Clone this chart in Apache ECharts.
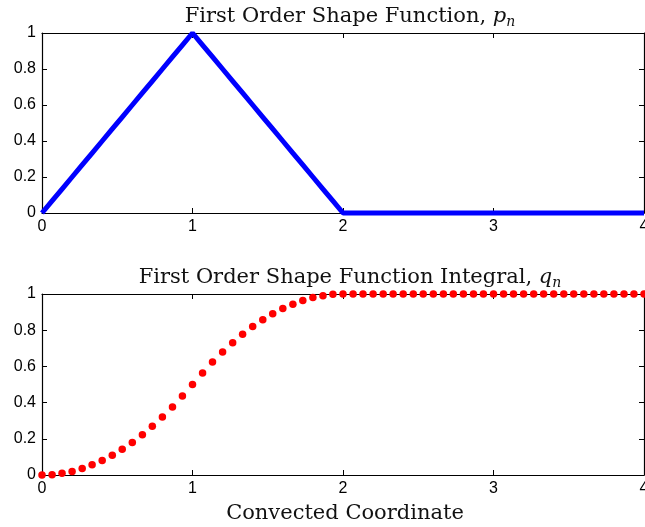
<!DOCTYPE html>
<html>
<head>
<meta charset="utf-8">
<style>
  html, body { margin: 0; padding: 0; background: #fff; }
  #chart { width: 645px; height: 527px; }
</style>
<script src="https://cdn.jsdelivr.net/npm/echarts@6/dist/echarts.min.js"></script>
</head>
<body>
<div id="chart"></div>
<script>
// Sample positions along the convected coordinate
var xs = [0, 0.067, 0.133, 0.2, 0.267, 0.333, 0.4, 0.467, 0.533, 0.6, 0.667, 0.733, 0.8, 0.867, 0.933,
  1, 1.067, 1.133, 1.2, 1.267, 1.333, 1.4, 1.467, 1.533, 1.6, 1.667, 1.733, 1.8, 1.867, 1.933,
  2, 2.067, 2.133, 2.2, 2.267, 2.333, 2.4, 2.467, 2.533, 2.6, 2.667, 2.733, 2.8, 2.867, 2.933,
  3, 3.067, 3.133, 3.2, 3.267, 3.333, 3.4, 3.467, 3.533, 3.6, 3.667, 3.733, 3.8, 3.867, 3.933, 4];

// First order shape function p_n
var pn = [0, 0.067, 0.133, 0.2, 0.267, 0.333, 0.4, 0.467, 0.533, 0.6, 0.667, 0.733, 0.8, 0.867, 0.933,
  1, 0.933, 0.867, 0.8, 0.733, 0.667, 0.6, 0.533, 0.467, 0.4, 0.333, 0.267, 0.2, 0.133, 0.067,
  0, 0, 0, 0, 0, 0, 0, 0, 0, 0, 0, 0, 0, 0, 0,
  0, 0, 0, 0, 0, 0, 0, 0, 0, 0, 0, 0, 0, 0, 0, 0];

// Its integral q_n
var qn = [0, 0.002, 0.009, 0.02, 0.036, 0.056, 0.08, 0.109, 0.142, 0.18, 0.222, 0.269, 0.32, 0.376, 0.436,
  0.5, 0.564, 0.624, 0.68, 0.731, 0.778, 0.82, 0.858, 0.891, 0.92, 0.944, 0.964, 0.98, 0.991, 0.998,
  1, 1, 1, 1, 1, 1, 1, 1, 1, 1, 1, 1, 1, 1, 1,
  1, 1, 1, 1, 1, 1, 1, 1, 1, 1, 1, 1, 1, 1, 1, 1];

var serif = '"DejaVu Serif", "Liberation Serif", serif';
var sans = '"Liberation Sans", Arial, sans-serif';

function pairs(x, y) { return x.map(function (v, i) { return [v, y[i]]; }); }

function titleRich(main, sym) {
  return {
    text: '{a|' + main + '}{p|' + sym + '}{n|n}',
    left: 345, textAlign: 'center',
    textStyle: {
      fontWeight: 'normal',
      rich: {
        a: { fontFamily: serif, fontSize: 21, fontWeight: 'normal', color: '#111', lineHeight: 24 },
        p: { fontFamily: serif, fontSize: 21, fontWeight: 'normal', fontStyle: 'italic', color: '#111', lineHeight: 24 },
        n: { fontFamily: serif, fontSize: 14, fontWeight: 'normal', fontStyle: 'italic', color: '#111', lineHeight: 14, verticalAlign: 'bottom' }
      }
    }
  };
}

var grids = [
  { left: 42, right: 1, top: 33, height: 180, outerBoundsMode: 'none', containLabel: false },
  { left: 42, right: 1, top: 294, height: 181, outerBoundsMode: 'none', containLabel: false }
];

function xAx(gi, pos, labels) {
  return {
    type: 'value', gridIndex: gi, position: pos, min: 0, max: 4, interval: 1,
    axisLine: { show: true, onZero: false, lineStyle: { color: '#000', width: 1.2 } },
    axisTick: { show: true, inside: true, length: 5, lineStyle: { color: '#000' } },
    axisLabel: { show: labels, margin: 6, fontFamily: sans, fontSize: 16, color: '#000',
      showMinLabel: true, showMaxLabel: true, hideOverlap: false },
    splitLine: { show: false }
  };
}
function yAx(gi, pos, labels) {
  return {
    type: 'value', gridIndex: gi, position: pos, min: 0, max: 1, interval: 0.2,
    axisLine: { show: true, onZero: false, lineStyle: { color: '#000', width: 1.2 } },
    axisTick: { show: true, inside: true, length: 5, lineStyle: { color: '#000' } },
    axisLabel: { show: labels, margin: 6, fontFamily: sans, fontSize: 16, color: '#000',
      formatter: function (v) { return String(Math.round(v * 10) / 10); } },
    splitLine: { show: false }
  };
}

var chart = echarts.init(document.getElementById('chart'), null, { renderer: 'canvas' });
chart.setOption({
  animation: false,
  backgroundColor: '#fff',
  title: [
    Object.assign(titleRich('First Order Shape Function, ', 'p'), { top: 0 }),
    Object.assign(titleRich('First Order Shape Function Integral, ', 'q'), { top: 261 })
  ],
  grid: grids,
  xAxis: [xAx(0, 'bottom', true), xAx(0, 'top', false), xAx(1, 'bottom', true), xAx(1, 'top', false)],
  yAxis: [yAx(0, 'left', true), yAx(0, 'right', false), yAx(1, 'left', true), yAx(1, 'right', false)],
  series: [
    {
      type: 'line', xAxisIndex: 0, yAxisIndex: 0, data: pairs(xs, pn),
      showSymbol: false, lineStyle: { color: '#0000ff', width: 5 }, clip: false
    },
    {
      type: 'scatter', xAxisIndex: 2, yAxisIndex: 2, data: pairs(xs, qn),
      symbol: 'circle', symbolSize: 7.5, itemStyle: { color: '#ff0000', opacity: 1 }, clip: false
    }
  ],
  graphic: [{
    type: 'text', x: 345, y: 503,
    style: { text: 'Convected Coordinate', fontFamily: serif, fontSize: 21, fill: '#111', align: 'center', textAlign: 'center' }
  }]
});
</script>
</body>
</html>
